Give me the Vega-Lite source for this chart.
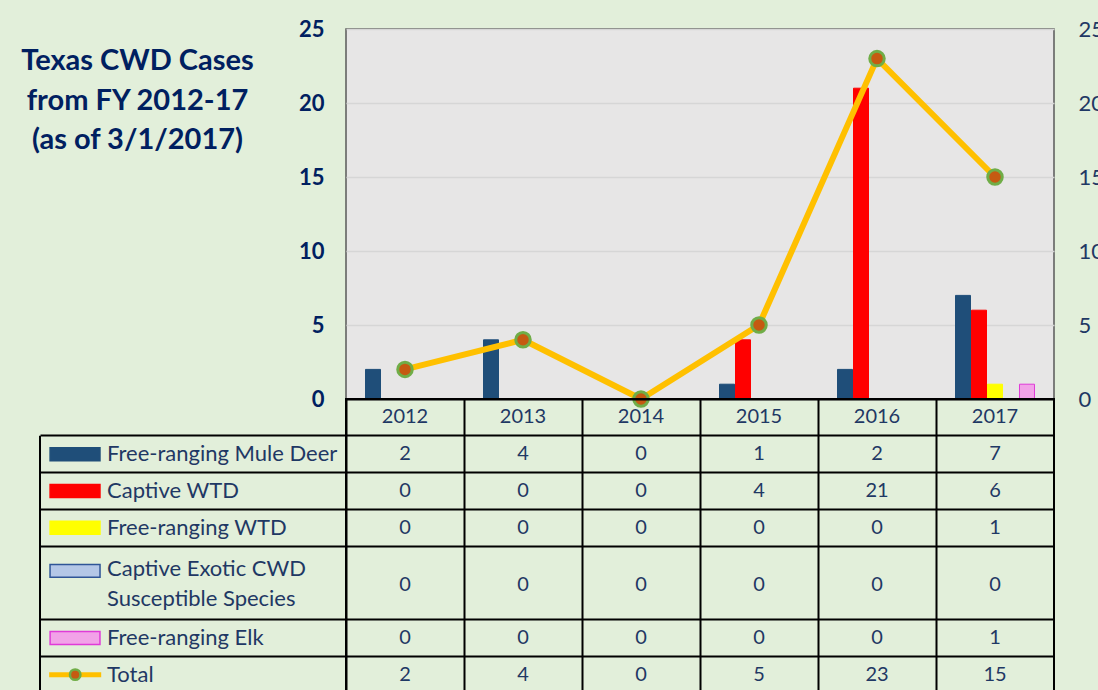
{
  "$schema": "https://vega.github.io/schema/vega-lite/v6.json",
  "background": "#e2efda",
  "padding": {"left": 21, "top": 17, "right": 0, "bottom": 0},
  "config": {"font": "Lato", "view": {"stroke": null}},
  "datasets": {
    "titleData": [{"label": "Texas CWD Cases\nfrom FY 2012-17\n(as of 3/1/2017)"}],
    "cases": [
      {"year": 2012, "series": "Free-ranging Mule Deer", "value": 2},
      {"year": 2013, "series": "Free-ranging Mule Deer", "value": 4},
      {"year": 2014, "series": "Free-ranging Mule Deer", "value": 0},
      {"year": 2015, "series": "Free-ranging Mule Deer", "value": 1},
      {"year": 2016, "series": "Free-ranging Mule Deer", "value": 2},
      {"year": 2017, "series": "Free-ranging Mule Deer", "value": 7},
      {"year": 2012, "series": "Captive WTD", "value": 0},
      {"year": 2013, "series": "Captive WTD", "value": 0},
      {"year": 2014, "series": "Captive WTD", "value": 0},
      {"year": 2015, "series": "Captive WTD", "value": 4},
      {"year": 2016, "series": "Captive WTD", "value": 21},
      {"year": 2017, "series": "Captive WTD", "value": 6},
      {"year": 2012, "series": "Free-ranging WTD", "value": 0},
      {"year": 2013, "series": "Free-ranging WTD", "value": 0},
      {"year": 2014, "series": "Free-ranging WTD", "value": 0},
      {"year": 2015, "series": "Free-ranging WTD", "value": 0},
      {"year": 2016, "series": "Free-ranging WTD", "value": 0},
      {"year": 2017, "series": "Free-ranging WTD", "value": 1},
      {"year": 2012, "series": "Captive Exotic CWD\nSusceptible Species", "value": 0},
      {"year": 2013, "series": "Captive Exotic CWD\nSusceptible Species", "value": 0},
      {"year": 2014, "series": "Captive Exotic CWD\nSusceptible Species", "value": 0},
      {"year": 2015, "series": "Captive Exotic CWD\nSusceptible Species", "value": 0},
      {"year": 2016, "series": "Captive Exotic CWD\nSusceptible Species", "value": 0},
      {"year": 2017, "series": "Captive Exotic CWD\nSusceptible Species", "value": 0},
      {"year": 2012, "series": "Free-ranging Elk", "value": 0},
      {"year": 2013, "series": "Free-ranging Elk", "value": 0},
      {"year": 2014, "series": "Free-ranging Elk", "value": 0},
      {"year": 2015, "series": "Free-ranging Elk", "value": 0},
      {"year": 2016, "series": "Free-ranging Elk", "value": 0},
      {"year": 2017, "series": "Free-ranging Elk", "value": 1},
      {"year": 2012, "series": "Total", "value": 2},
      {"year": 2013, "series": "Total", "value": 4},
      {"year": 2014, "series": "Total", "value": 0},
      {"year": 2015, "series": "Total", "value": 5},
      {"year": 2016, "series": "Total", "value": 23},
      {"year": 2017, "series": "Total", "value": 15}
    ]
  },
  "columns": 2,
  "spacing": 0,
  "bounds": "flush",
  "concat": [
    {
      "width": 306,
      "height": 370,
      "data": {"name": "titleData"},
      "mark": {"type": "text", "font": "Lato", "fontSize": 29, "fontWeight": "bold", "color": "#002060", "lineBreak": "\n", "lineHeight": 39.5, "align": "center", "baseline": "middle", "dx": -55.5, "dy": -153},
      "encoding": {"text": {"field": "label", "type": "nominal"}}
    },
    {
      "width": 708,
      "height": 370,
      "data": {"name": "cases"},
      "view": {"fill": "#e7e6e6", "stroke": "#595959", "strokeWidth": 1.5},
      "resolve": {"scale": {"y": "independent"}, "axis": {"y": "independent"}},
      "layer": [
        {
          "transform": [{"filter": "datum.series !== 'Total' && datum.value > 0"}],
          "mark": {"type": "bar", "strokeWidth": 1},
          "encoding": {
            "x": {"field": "year", "type": "ordinal", "scale": {"type": "band", "domain": [2012, 2013, 2014, 2015, 2016, 2017], "paddingInner": 0, "paddingOuter": 0}, "axis": null},
            "xOffset": {"field": "series", "type": "nominal", "scale": {"domain": ["gap-left", "Free-ranging Mule Deer", "Captive WTD", "Free-ranging WTD", "Captive Exotic CWD\nSusceptible Species", "Free-ranging Elk", "gap-right"], "paddingInner": 0.0625, "paddingOuter": 0.22}},
            "y": {"field": "value", "type": "quantitative", "scale": {"domain": [0, 25], "nice": false}, "axis": {"orient": "left", "values": [0, 5, 10, 15, 20, 25], "labelFont": "Lato", "labelFontSize": 22, "labelFontWeight": "bold", "labelColor": "#002060", "labelPadding": 22, "ticks": false, "domain": false, "grid": true, "gridColor": "#d6d6d6", "gridWidth": 1.5, "title": null}},
            "fill": {"field": "series", "type": "nominal", "scale": {"domain": ["Free-ranging Mule Deer", "Captive WTD", "Free-ranging WTD", "Captive Exotic CWD\nSusceptible Species", "Free-ranging Elk"], "range": ["#1f4e79", "#ff0000", "#ffff00", "#b4c7e7", "#f2a2e8"]}, "legend": null},
            "stroke": {"field": "series", "type": "nominal", "scale": {"domain": ["Free-ranging Mule Deer", "Captive WTD", "Free-ranging WTD", "Captive Exotic CWD\nSusceptible Species", "Free-ranging Elk"], "range": ["#1f4e79", "#ff0000", "#ffff00", "#2f5597", "#e03ad8"]}, "legend": null}
          }
        },
        {
          "transform": [{"filter": "datum.series === 'Total'"}],
          "encoding": {
            "x": {"field": "year", "type": "ordinal", "scale": {"type": "band", "domain": [2012, 2013, 2014, 2015, 2016, 2017], "paddingInner": 0, "paddingOuter": 0}, "axis": null},
            "y": {"field": "value", "type": "quantitative", "scale": {"domain": [0, 25], "nice": false}, "axis": {"orient": "right", "values": [0, 5, 10, 15, 20, 25], "labelFont": "Lato", "labelFontSize": 22, "labelColor": "#1f3864", "labelPadding": 24, "ticks": false, "domain": false, "grid": false, "title": null}}
          },
          "layer": [
            {"mark": {"type": "line", "color": "#ffc000", "strokeWidth": 6}},
            {"mark": {"type": "point", "shape": "circle", "filled": true, "size": 210, "fill": "#c55a11", "stroke": "#70ad47", "strokeWidth": 3, "opacity": 1}}
          ]
        }
      ]
    },
    {
      "width": 306,
      "height": 294,
      "data": {"name": "cases"},
      "transform": [{"filter": "datum.year === 2012"}],
      "encoding": {
        "y": {"field": "series", "type": "nominal", "scale": {"type": "band", "domain": ["Year", "Free-ranging Mule Deer", "Captive WTD", "Free-ranging WTD", "Captive Exotic CWD\nSusceptible Species", "exotic-2", "Free-ranging Elk", "Total"], "paddingInner": 0, "paddingOuter": 0}, "axis": {"grid": true, "bandPosition": 0, "gridColor": {"condition": {"test": "datum.value === 'exotic-2' || datum.value === 'Year'", "value": "transparent"}, "value": "black"}, "gridWidth": 2, "labels": false, "ticks": false, "domain": false, "title": null}}
      },
      "layer": [
        {
          "transform": [{"filter": "indexof(datum.series, 'Exotic') < 0"}],
          "mark": {"type": "text", "align": "left", "baseline": "middle", "font": "Lato", "fontSize": 22, "color": "#1f3864"},
          "encoding": {
            "x": {"datum": 0.219, "type": "quantitative", "scale": {"domain": [0, 1], "nice": false, "zero": false}, "axis": null},
            "text": {"field": "series", "type": "nominal"}
          }
        },
        {
          "transform": [{"filter": "indexof(datum.series, 'Exotic') >= 0"}],
          "mark": {"type": "text", "align": "left", "baseline": "middle", "font": "Lato", "fontSize": 22, "color": "#1f3864", "lineBreak": "\n", "lineHeight": 30},
          "encoding": {
            "x": {"datum": 0.219, "type": "quantitative"},
            "y": {"field": "series", "type": "nominal", "bandPosition": 0.62, "axis": {"grid": true, "bandPosition": 0, "gridColor": {"condition": {"test": "datum.value === 'exotic-2' || datum.value === 'Year'", "value": "transparent"}, "value": "black"}, "gridWidth": 2, "labels": false, "ticks": false, "domain": false, "title": null}},
            "text": {"field": "series", "type": "nominal"}
          }
        },
        {
          "transform": [{"filter": "datum.series !== 'Total' && indexof(datum.series, 'Exotic') < 0"}],
          "mark": {"type": "bar", "size": 13, "strokeWidth": 1.5},
          "encoding": {
            "x": {"datum": 0.033, "type": "quantitative"},
            "x2": {"datum": 0.196},
            "fill": {"field": "series", "type": "nominal", "legend": null},
            "stroke": {"field": "series", "type": "nominal", "legend": null}
          }
        },
        {
          "transform": [{"filter": "indexof(datum.series, 'Exotic') >= 0"}],
          "mark": {"type": "point", "shape": "M-1,-0.255H1V0.255H-1Z", "filled": true, "size": 2500, "strokeWidth": 1.5, "opacity": 1},
          "encoding": {
            "x": {"datum": 0.1145, "type": "quantitative"},
            "y": {"field": "series", "type": "nominal", "bandPosition": 0.68, "axis": {"grid": true, "bandPosition": 0, "gridColor": {"condition": {"test": "datum.value === 'exotic-2' || datum.value === 'Year'", "value": "transparent"}, "value": "black"}, "gridWidth": 2, "labels": false, "ticks": false, "domain": false, "title": null}},
            "fill": {"field": "series", "type": "nominal", "legend": null},
            "stroke": {"field": "series", "type": "nominal", "legend": null}
          }
        },
        {
          "transform": [{"filter": "datum.series === 'Total'"}],
          "mark": {"type": "rule", "color": "#ffc000", "strokeWidth": 5},
          "encoding": {
            "x": {"datum": 0.03, "type": "quantitative"},
            "x2": {"datum": 0.2}
          }
        },
        {
          "transform": [{"filter": "datum.series === 'Total'"}],
          "mark": {"type": "point", "shape": "circle", "filled": true, "size": 110, "fill": "#c55a11", "stroke": "#70ad47", "strokeWidth": 2.5, "opacity": 1},
          "encoding": {
            "x": {"datum": 0.115, "type": "quantitative"}
          }
        },
        {
          "transform": [{"filter": "datum.series === 'Free-ranging Mule Deer'"}],
          "mark": {"type": "rule", "color": "black", "strokeWidth": 2},
          "encoding": {
            "x": {"datum": 0, "type": "quantitative"},
            "y": {"field": "series", "type": "nominal", "bandPosition": 0, "axis": {"grid": true, "bandPosition": 0, "gridColor": {"condition": {"test": "datum.value === 'exotic-2' || datum.value === 'Year'", "value": "transparent"}, "value": "black"}, "gridWidth": 2, "labels": false, "ticks": false, "domain": false, "title": null}},
            "y2": {"value": "height"}
          }
        }
      ]
    },
    {
      "width": 708,
      "height": 294,
      "data": {"name": "cases"},
      "view": {"stroke": "black", "strokeWidth": 2},
      "encoding": {
        "x": {"field": "year", "type": "ordinal", "scale": {"type": "band", "domain": [2012, 2013, 2014, 2015, 2016, 2017], "paddingInner": 0, "paddingOuter": 0}, "axis": {"grid": true, "bandPosition": 0, "gridColor": "black", "gridWidth": 2, "labels": false, "ticks": false, "domain": false, "title": null}},
        "y": {"field": "series", "type": "nominal", "scale": {"type": "band", "domain": ["Year", "Free-ranging Mule Deer", "Captive WTD", "Free-ranging WTD", "Captive Exotic CWD\nSusceptible Species", "exotic-2", "Free-ranging Elk", "Total"], "paddingInner": 0, "paddingOuter": 0}, "axis": {"grid": true, "bandPosition": 0, "gridColor": {"condition": {"test": "datum.value === 'exotic-2'", "value": "transparent"}, "value": "black"}, "gridWidth": 2, "labels": false, "ticks": false, "domain": false, "title": null}}
      },
      "layer": [
        {
          "transform": [{"filter": "indexof(datum.series, 'Exotic') < 0"}],
          "mark": {"type": "text", "font": "Lato", "fontSize": 20, "color": "#1f3864", "baseline": "middle"},
          "encoding": {"text": {"field": "value", "type": "quantitative"}}
        },
        {
          "transform": [{"filter": "indexof(datum.series, 'Exotic') >= 0"}],
          "mark": {"type": "text", "font": "Lato", "fontSize": 20, "color": "#1f3864", "baseline": "middle"},
          "encoding": {
            "y": {"field": "series", "type": "nominal", "bandPosition": 1.05, "axis": {"grid": true, "bandPosition": 0, "gridColor": {"condition": {"test": "datum.value === 'exotic-2'", "value": "transparent"}, "value": "black"}, "gridWidth": 2, "labels": false, "ticks": false, "domain": false, "title": null}},
            "text": {"field": "value", "type": "quantitative"}
          }
        },
        {
          "transform": [{"filter": "datum.series === 'Total'"}],
          "mark": {"type": "text", "font": "Lato", "fontSize": 20, "color": "#1f3864", "baseline": "middle"},
          "encoding": {
            "y": {"datum": "Year", "type": "nominal", "axis": {"grid": true, "bandPosition": 0, "gridColor": {"condition": {"test": "datum.value === 'exotic-2'", "value": "transparent"}, "value": "black"}, "gridWidth": 2, "labels": false, "ticks": false, "domain": false, "title": null}},
            "text": {"field": "year", "type": "ordinal"}
          }
        }
      ]
    }
  ]
}
